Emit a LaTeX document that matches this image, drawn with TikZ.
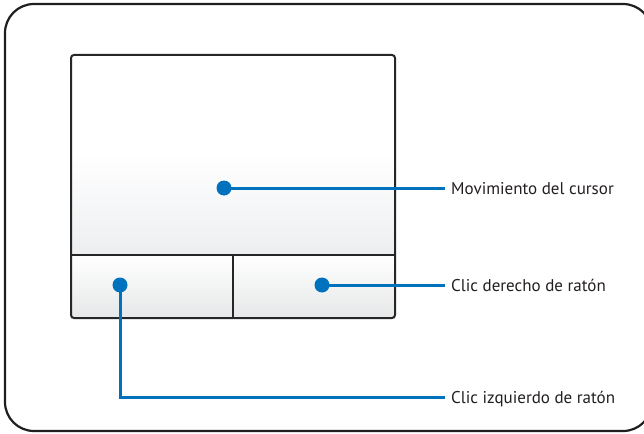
\documentclass[tikz,border=0pt]{standalone}
\usepackage{fontspec}
\setmainfont{PT Sans}
\begin{document}
\begin{tikzpicture}[x=1pt,y=-1pt,
  frame/.style={draw=black!88, line width=2.2pt},
  pad/.style={draw=black!85, line width=2pt},
  lead/.style={draw=leadblue, line width=3pt},
  dot/.style={circle, fill=leadblue, inner sep=0pt, minimum size=15pt},
  lbl/.style={anchor=base west, inner sep=0pt, text=txt, font=\fontsize{17}{20}\selectfont}]
\definecolor{leadblue}{HTML}{0071BC}
\definecolor{txt}{HTML}{231F20}
\definecolor{padgray}{HTML}{ECEEF0}
\definecolor{btngray}{HTML}{E6E7E8}
\useasboundingbox (0,0) rectangle (644,433);
\begin{scope}
\clip (0,0) rectangle (644,433);
\draw[frame, rounded corners=29pt] (5,4) rectangle (652,431);
\end{scope}
% touchpad surfaces
\shade[top color=white, bottom color=padgray, middle color=white] (71,55) rectangle (395,255);
\shade[top color=white, bottom color=btngray] (71,255) rectangle (233,318);
\shade[top color=white, bottom color=btngray] (233,255) rectangle (395,318);
\draw[pad, rounded corners=3pt] (71,55) rectangle (395,318);
\draw[pad] (71,255) -- (395,255);
\draw[pad] (233,255) -- (233,318);
% dots
\node[dot] (d1) at (224,188) {};
\node[dot] (d2) at (322,285) {};
\node[dot] (d3) at (120,285) {};
% labels
\coordinate (e1) at (445,188);
\coordinate (e2) at (445,285);
\coordinate (e3) at (445,397);
\coordinate (k3) at (120,397);
\node[lbl] (t1) at (451,194) {Movimiento del cursor};
\node[lbl] (t2) at (451,291) {Clic derecho de ratón};
\node[lbl] (t3) at (451,403) {Clic izquierdo de ratón};
\draw[lead] (d1.center) -- (e1);
\draw[lead] (d2.center) -- (e2);
\draw[lead] (d3.center) -- (k3) -- (e3);
\end{tikzpicture}
\end{document}
